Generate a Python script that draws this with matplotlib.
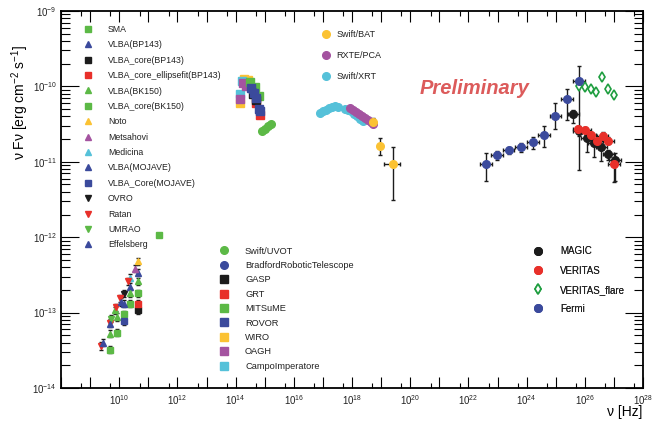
import numpy as np
import matplotlib
matplotlib.use("Agg")
import matplotlib.pyplot as plt
from matplotlib.ticker import FixedLocator, FuncFormatter, NullFormatter, LogLocator

plt.rcParams["font.family"] = ["Liberation Sans", "DejaVu Sans"]
plt.rcParams["mathtext.fontset"] = "custom"
plt.rcParams["mathtext.rm"] = "Liberation Sans"
plt.rcParams["mathtext.it"] = "Liberation Sans:italic"
plt.rcParams["mathtext.bf"] = "Liberation Sans:bold"

GREEN = "#5cb946"
BLUE = "#3b4a9c"
BLACK = "#1c1c1c"
RED = "#e8302a"
YELLOW = "#fbc233"
PURPLE = "#a453a0"
CYAN = "#55c1d9"
FLARE = "#1f9e40"

# ---- radio ----
sma_nu, sma_f = [2.3e11], [1.07e-12]
vlba_bp143_nu, vlba_bp143_f = [4.5e10, 2.3e10], [3.4e-13, 2.2e-13]
core_bp143_nu, core_bp143_f = [4.5e10], [1.07e-13]
ellipse_nu, ellipse_f = [4.5e10], [1.3e-13]
vlba_bk150_nu = [4.5e10, 2.4e10, 7.3e9, 8.4e9, 4.8e9]
vlba_bk150_f = [2.6e-13, 1.8e-13, 1.07e-13, 8.7e-14, 5.2e-14]
core_bk150_nu = [4.5e10, 2.3e10, 1.5e10, 8.4e9, 4.8e9]
core_bk150_f = [1.8e-13, 1.3e-13, 9.5e-14, 5.4e-14, 3.2e-14]
noto_nu, noto_f = [4.5e10], [4.8e-13]
metsahovi_nu, metsahovi_f = [3.5e10], [3.8e-13]
medicina_nu, medicina_f = [2.3e10], [2.9e-13]
mojave_nu, mojave_f = [1.5e10], [1.3e-13]
mojave_core_nu, mojave_core_f = [1.5e10], [7.7e-14]
ovro_nu, ovro_f = [1.5e10], [1.78e-13]
ratan_nu = [2.0e10, 1.07e10, 7.8e9, 4.8e9, 2.3e9]
ratan_f = [2.6e-13, 1.55e-13, 1.17e-13, 7.3e-14, 3.6e-14]
umrao_nu, umrao_f = [5.2e9], [8.3e-14]
effelsberg_nu = [1.15e10, 4.8e9, 2.7e9]
effelsberg_f = [1.38e-13, 7.1e-14, 4.0e-14]

# ---- optical / UV ----
uvot_nu = [8.1e14, 1.03e15, 1.29e15, 1.66e15]
uvot_f = [2.56e-11, 2.7e-11, 3.0e-11, 3.2e-11]
bradford_nu, bradford_f = [3.63e14], [8.95e-11]
gasp_nu, gasp_f = [3.98e14, 5.01e14], [7.9e-11, 6.6e-11]
grt_nu, grt_f = [5.01e14, 6.92e14], [6.0e-11, 4.2e-11]
mitsume_nu, mitsume_f = [3.09e14, 4.68e14, 6.31e14], [1.14e-10, 9.8e-11, 7.5e-11]
rovor_nu = [3.39e14, 4.27e14, 5.01e14, 6.31e14, 6.92e14]
rovor_f = [9.5e-11, 8.2e-11, 7.0e-11, 5.0e-11, 4.7e-11]
wiro_nu, wiro_f = [1.41e14, 1.95e14, 2.69e14], [6.0e-11, 1.25e-10, 1.22e-10]
oagh_nu, oagh_f = [1.41e14, 1.78e14, 2.29e14], [6.8e-11, 1.11e-10, 1.01e-10]
campo_nu, campo_f = [1.41e14, 1.66e14], [7.9e-11, 1.18e-10]

# ---- X-ray ----
xrt_nu = [7.9e16, 1.0e17, 1.29e17, 1.62e17, 2.04e17, 2.63e17, 3.31e17,
          5.75e17, 7.24e17, 9.33e17, 1.17e18, 1.48e18, 1.86e18, 2.4e18]
xrt_f = [4.44e-11, 4.65e-11, 4.86e-11, 5.18e-11, 5.41e-11, 5.5e-11, 5.41e-11,
         5.09e-11, 4.86e-11, 4.65e-11, 4.31e-11, 3.99e-11, 3.7e-11, 3.48e-11]
pca_nu = [8.5e17, 1.07e18, 1.38e18, 1.74e18, 2.19e18, 2.82e18, 3.55e18, 4.47e18, 5.25e18]
pca_f = [5.18e-11, 4.86e-11, 4.57e-11, 4.31e-11, 4.05e-11, 3.81e-11, 3.58e-11, 3.37e-11, 3.17e-11]
bat_nu = [5.25e18, 9.1e18, 2.57e19]
bat_f = [3.37e-11, 1.62e-11, 9.3e-12]
bat_nu_lo = [4.7e18, 8.1e18, 1.26e19]
bat_nu_hi = [5.9e18, 1.02e19, 4.47e19]
bat_f_lo = [3.0e-11, 1.23e-11, 3.1e-12]
bat_f_hi = [3.8e-11, 2.09e-11, 1.58e-11]

# ---- gamma ----
fermi_nu = [3.98e22, 9.8e22, 2.4e23, 6.3e23, 1.62e24, 3.98e24, 9.8e24, 2.45e25, 6.2e25]
fermi_f = [9.3e-12, 1.23e-11, 1.45e-11, 1.58e-11, 1.82e-11, 2.24e-11, 4.1e-11, 6.8e-11, 1.17e-10]
fermi_f_lo = [5.6e-12, 1.05e-11, 1.26e-11, 1.35e-11, 1.48e-11, 1.55e-11, 2.7e-11, 3.6e-11, 7.8e-12]
fermi_f_hi = [1.3e-11, 1.41e-11, 1.58e-11, 1.78e-11, 2.14e-11, 2.95e-11, 6.0e-11, 9.3e-11, 1.86e-10]
magic_nu = [4.07e25, 6.46e25, 1.15e26, 2.09e26, 3.72e26, 6.46e26, 1.07e27]
magic_f = [4.27e-11, 2.57e-11, 2.04e-11, 1.78e-11, 1.55e-11, 1.26e-11, 1.07e-11]
magic_f_lo = [3.3e-11, 2.2e-11, 1.35e-11, 1.15e-11, 1.02e-11, 1.05e-11, 5.5e-12]
magic_f_hi = [4.9e-11, 3.0e-11, 2.5e-11, 2.1e-11, 1.9e-11, 1.45e-11, 1.32e-11]
veritas_nu = [6.0e25, 1.0e26, 1.58e26, 2.57e26, 4.07e26, 6.46e26, 1.0e27]
veritas_f = [2.75e-11, 2.63e-11, 2.29e-11, 1.86e-11, 2.19e-11, 1.91e-11, 9.3e-12]
veritas_f_lo = [2.5e-11, 2.4e-11, 2.05e-11, 1.65e-11, 1.95e-11, 1.7e-11, 5.4e-12]
veritas_f_hi = [3.0e-11, 2.9e-11, 2.5e-11, 2.1e-11, 2.45e-11, 2.15e-11, 1.12e-11]
flare_nu = [6.3e25, 1.02e26, 1.62e26, 2.4e26, 3.89e26, 6.3e26, 1.0e27]
flare_f = [1.02e-10, 9.8e-11, 9.1e-11, 8.5e-11, 1.35e-10, 9.1e-11, 7.8e-11]

W, H = 653, 423
fig = plt.figure(figsize=(W / 100, H / 100), dpi=100)
ax = fig.add_axes([61 / W, 1 - 388 / H, 582 / W, 377 / H])
ax.set_xscale("log")
ax.set_yscale("log")


def points(nu, f, marker, color, label, ms=5, err=False):
    nu = np.array(nu)
    f = np.array(f)
    if err:
        ax.errorbar(nu, f, yerr=[f * 0.1, f * 0.12], fmt="none", ecolor=BLACK,
                    elinewidth=0.8, capsize=1.2, zorder=2)
    (h,) = ax.plot(nu, f, linestyle="none", marker=marker, color=color,
                   mec=color, ms=ms, label=label, zorder=3)
    return h


def gamma(nu, f, lo, hi):
    nu = np.array(nu)
    f = np.array(f)
    ax.errorbar(nu, f, xerr=[nu - nu / 10 ** 0.2, nu * 10 ** 0.2 - nu],
                yerr=[f - np.array(lo), np.array(hi) - f], fmt="none",
                ecolor=BLACK, elinewidth=1, capsize=1.5, zorder=2)


radio = [
    points(sma_nu, sma_f, "s", GREEN, "SMA"),
    points(vlba_bp143_nu, vlba_bp143_f, "^", BLUE, "VLBA(BP143)", err=True),
    points(core_bp143_nu, core_bp143_f, "s", BLACK, "VLBA_core(BP143)", err=True),
    points(ellipse_nu, ellipse_f, "s", RED, "VLBA_core_ellipsefit(BP143)", err=True),
    points(vlba_bk150_nu, vlba_bk150_f, "^", GREEN, "VLBA(BK150)", err=True),
    points(core_bk150_nu, core_bk150_f, "s", GREEN, "VLBA_core(BK150)", err=True),
    points(noto_nu, noto_f, "^", YELLOW, "Noto", err=True),
    points(metsahovi_nu, metsahovi_f, "^", PURPLE, "Metsahovi", err=True),
    points(medicina_nu, medicina_f, "^", CYAN, "Medicina", err=True),
    points(mojave_nu, mojave_f, "^", BLUE, "VLBA(MOJAVE)", err=True),
    points(mojave_core_nu, mojave_core_f, "s", BLUE, "VLBA_Core(MOJAVE)", err=True),
    points(ovro_nu, ovro_f, "v", BLACK, "OVRO", err=True),
    points(ratan_nu, ratan_f, "v", RED, "Ratan", err=True),
    points(umrao_nu, umrao_f, "v", GREEN, "UMRAO", err=True),
    points(effelsberg_nu, effelsberg_f, "^", BLUE, "Effelsberg", err=True),
]

opt = {}
opt["WIRO"] = points(wiro_nu, wiro_f, "s", YELLOW, "WIRO", ms=5.5)
opt["CampoImperatore"] = points(campo_nu, campo_f, "s", CYAN, "CampoImperatore", ms=5.5)
opt["OAGH"] = points(oagh_nu, oagh_f, "s", PURPLE, "OAGH", ms=5.5)
opt["MITSuME"] = points(mitsume_nu, mitsume_f, "s", GREEN, "MITSuME", ms=5.5)
opt["GRT"] = points(grt_nu, grt_f, "s", RED, "GRT", ms=5.5)
opt["GASP"] = points(gasp_nu, gasp_f, "s", BLACK, "GASP", ms=5.5)
opt["ROVOR"] = points(rovor_nu, rovor_f, "s", BLUE, "ROVOR", ms=5.5)
opt["BradfordRoboticTelescope"] = points(bradford_nu, bradford_f, "o", BLUE,
                                         "BradfordRoboticTelescope", ms=5.5)
opt["Swift/UVOT"] = points(uvot_nu, uvot_f, "o", GREEN, "Swift/UVOT", ms=5.5)
opt_order = ["Swift/UVOT", "BradfordRoboticTelescope", "GASP", "GRT", "MITSuME",
             "ROVOR", "WIRO", "OAGH", "CampoImperatore"]

h_xrt = points(xrt_nu, xrt_f, "o", CYAN, "Swift/XRT", ms=5.5)
h_pca = points(pca_nu, pca_f, "o", PURPLE, "RXTE/PCA", ms=5.5)
bat_nu_a = np.array(bat_nu)
bat_f_a = np.array(bat_f)
ax.errorbar(bat_nu_a, bat_f_a,
            xerr=[bat_nu_a - np.array(bat_nu_lo), np.array(bat_nu_hi) - bat_nu_a],
            yerr=[bat_f_a - np.array(bat_f_lo), np.array(bat_f_hi) - bat_f_a],
            fmt="none", ecolor=BLACK, elinewidth=1, capsize=1.5, zorder=2)
h_bat = points(bat_nu, bat_f, "o", YELLOW, "Swift/BAT", ms=5.5)
xray = [h_bat, h_pca, h_xrt]

gamma(fermi_nu, fermi_f, fermi_f_lo, fermi_f_hi)
gamma(magic_nu, magic_f, magic_f_lo, magic_f_hi)
gamma(veritas_nu, veritas_f, veritas_f_lo, veritas_f_hi)
flare_f_a = np.array(flare_f)
ax.errorbar(flare_nu, flare_f_a, yerr=[flare_f_a * 0.08, flare_f_a * 0.08],
            fmt="none", ecolor=FLARE, elinewidth=0.8, capsize=1, zorder=2)
gam = [
    points(magic_nu, magic_f, "o", BLACK, "MAGIC", ms=5.5),
    points(veritas_nu, veritas_f, "o", RED, "VERITAS", ms=5.5),
]
(hfl,) = ax.plot(flare_nu, flare_f, linestyle="none", marker="d", mfc="white",
                 mec=FLARE, mew=1.2, ms=5, label="VERITAS_flare", zorder=3)
gam.append(hfl)
gam.append(points(fermi_nu, fermi_f, "o", BLUE, "Fermi", ms=5.5))

ax.set_xlim(1e8, 1e28)
ax.set_ylim(1e-14, 1e-9)

ax.xaxis.set_major_locator(FixedLocator([10.0 ** n for n in range(8, 29)]))
ax.xaxis.set_minor_locator(FixedLocator([5 * 10.0 ** n for n in range(8, 28)]))
ax.xaxis.set_major_formatter(FuncFormatter(
    lambda v, p: "$10^{%d}$" % round(np.log10(v))
    if round(np.log10(v)) % 2 == 0 and round(np.log10(v)) >= 10 else ""))
ax.xaxis.set_minor_formatter(NullFormatter())
ax.yaxis.set_major_locator(FixedLocator([10.0 ** n for n in range(-14, -8)]))
ax.yaxis.set_minor_locator(LogLocator(base=10, subs=np.arange(2, 10), numticks=10))
ax.yaxis.set_major_formatter(FuncFormatter(lambda v, p: "$10^{%d}$" % round(np.log10(v))))
ax.yaxis.set_minor_formatter(NullFormatter())

ax.tick_params(which="both", direction="in", top=True, right=True, labelsize=7,
               width=0.8, labelcolor="#222222")
ax.tick_params(axis="x", which="major", length=8, pad=4)
ax.tick_params(axis="x", which="minor", length=3.5)
ax.tick_params(axis="y", which="major", length=13, pad=3)
ax.tick_params(axis="y", which="minor", length=6.5)
for s in ax.spines.values():
    s.set_linewidth(1.3)


def place_legend(handles, labels, x_marker, y_first, spacing, gap, fs):
    fs_px = fs * 100 / 72
    hl = 1.0
    hstart = x_marker - hl * fs_px / 2
    pad = (gap - hl * fs_px / 2) / fs_px
    row_h = 1.15 * fs_px
    ls = (spacing - row_h + 1.6) / fs_px
    top = y_first - row_h / 2
    leg = ax.legend(handles, labels, loc="upper left",
                    bbox_to_anchor=(hstart / W, 1 - top / H),
                    bbox_transform=fig.transFigure, frameon=False,
                    borderpad=0, borderaxespad=0, handlelength=hl,
                    handletextpad=pad, labelspacing=ls, fontsize=fs,
                    numpoints=1, labelcolor="#222222")
    ax.add_artist(leg)


place_legend(radio, [h.get_label() for h in radio], 88, 30, 14.85, 20, 6.3)
place_legend(xray, [h.get_label() for h in xray], 326, 35, 21, 10.5, 6.5)
place_legend([opt[k] for k in opt_order], opt_order, 224, 252, 14.5, 21, 6.7)
place_legend(gam, [h.get_label() for h in gam], 538, 252, 18.7, 22, 7)

fig.text(420 / W, 1 - 88 / H, "Preliminary", fontsize=14.5, fontweight="bold",
         fontstyle="italic", color="#dc5b5b", ha="left", va="center")
fig.text(642 / W, 1 - 412 / H, "ν [Hz]", fontsize=10, ha="right", va="center")
fig.text(20 / W, 1 - 102 / H, "ν Fν [erg cm$^{-2}$ s$^{-1}$]", fontsize=10,
         rotation=90, ha="center", va="center")

fig.savefig("out.png", dpi=100)
